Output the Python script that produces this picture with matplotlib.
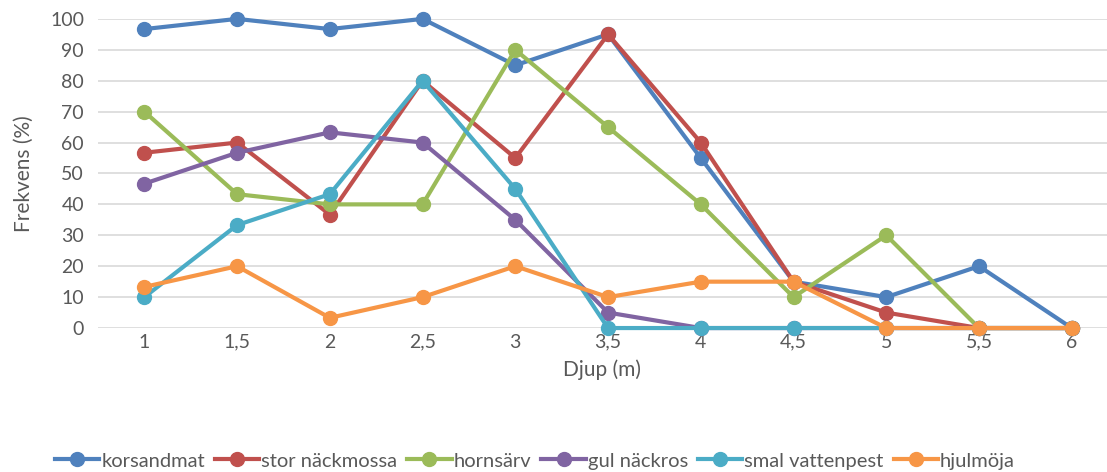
import matplotlib.pyplot as plt

plt.rcParams['font.family'] = ['Lato', 'DejaVu Sans']

djup = ['1', '1,5', '2', '2,5', '3', '3,5', '4', '4,5', '5', '5,5', '6']
series = ['korsandmat', 'stor näckmossa', 'hornsärv', 'gul näckros',
          'smal vattenpest', 'hjulmöja']
korsandmat = [96.7, 100, 96.7, 100, 85, 95, 55, 15, 10, 20, 0]
stor_nackmossa = [56.7, 60, 36.7, 80, 55, 95, 60, 15, 5, 0, 0]
hornsarv = [70, 43.3, 40, 40, 90, 65, 40, 10, 30, 0, 0]
gul_nackros = [46.7, 56.7, 63.3, 60, 35, 5, 0, 0, 0, 0, 0]
smal_vattenpest = [10, 33.3, 43.3, 80, 45, 0, 0, 0, 0, 0, 0]
hjulmoja = [13.3, 20, 3.3, 10, 20, 10, 15, 15, 0, 0, 0]
values = [korsandmat, stor_nackmossa, hornsarv, gul_nackros,
          smal_vattenpest, hjulmoja]
colors = ['#4F81BD', '#C0504D', '#9BBB59', '#8064A2', '#4BACC6', '#F79646']

txt = '#595959'
fig = plt.figure(figsize=(11.07, 4.72), dpi=100)
ax = fig.add_axes([0.0885, 0.305, 0.9115, 0.655])

x = list(range(len(djup)))
for name, vals, c in zip(series, values, colors):
    ax.plot(x, vals, color=c, lw=3.0, marker='o', ms=10, label=name,
            clip_on=False, zorder=3)

ax.set_xlim(-0.5, 10.38)
ax.set_ylim(0, 100)
ax.set_yticks(range(0, 101, 10))
ax.set_xticks(x)
ax.set_xticklabels(djup)
ax.grid(axis='y', color='#D9D9D9', lw=1.2)
ax.set_axisbelow(True)
for s in ax.spines.values():
    s.set_visible(False)
ax.tick_params(length=0, labelsize=14, colors=txt)
ax.xaxis.set_tick_params(pad=4)
ax.yaxis.set_tick_params(pad=10)
ax.set_xlabel('Djup (m)', fontsize=15, color=txt, labelpad=6)
ax.set_ylabel('Frekvens (%)', fontsize=15, color=txt, labelpad=12)

ax.legend(loc='center', bbox_to_anchor=(0.433, -0.43), ncol=6,
          frameon=False, fontsize=14.5, handlelength=2.2, handletextpad=0.1,
          columnspacing=0.5, labelcolor=txt)

fig.savefig('out.png', dpi=100)
